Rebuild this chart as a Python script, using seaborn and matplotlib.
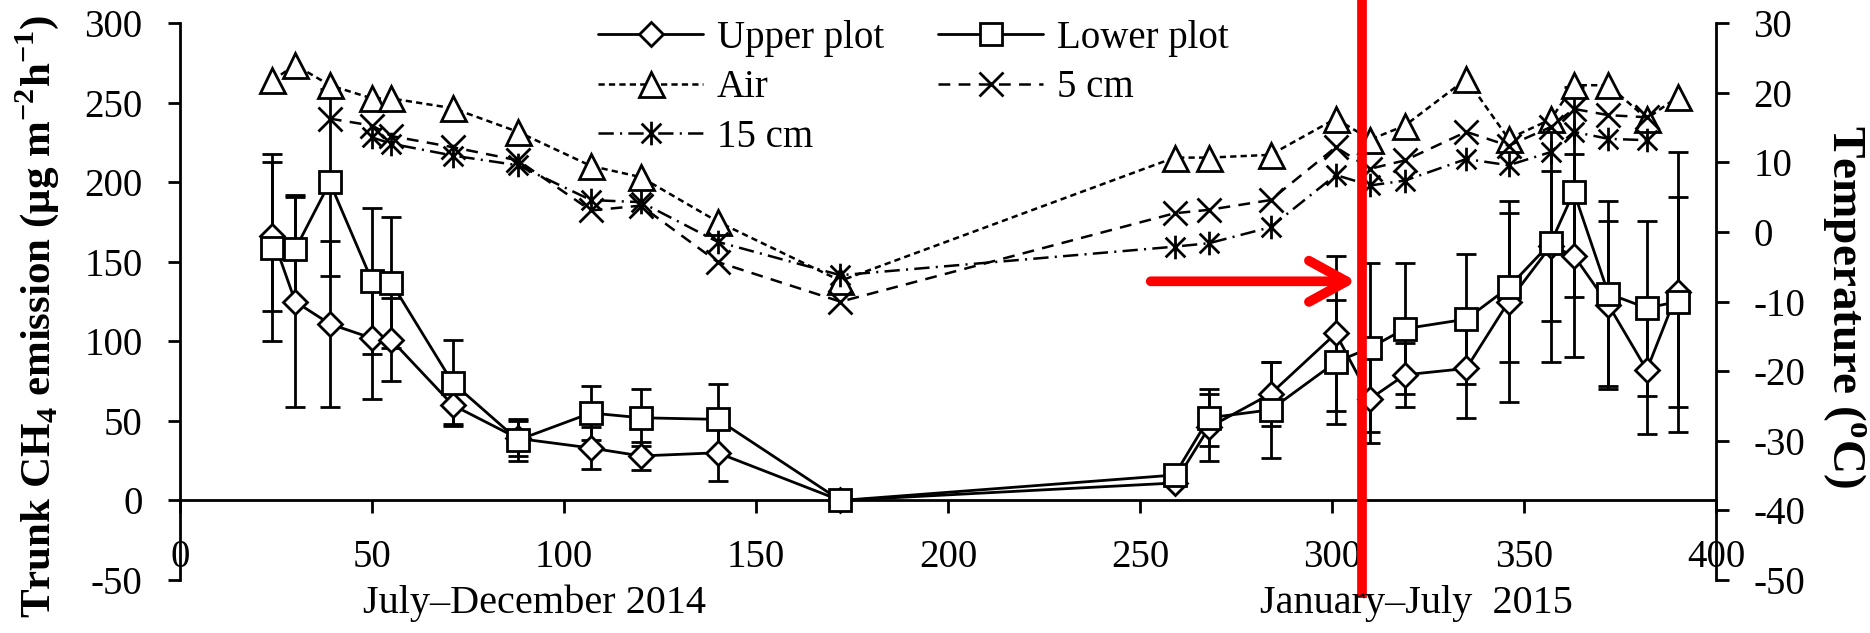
import numpy as np
import pandas as pd
import matplotlib
matplotlib.use("Agg")
import matplotlib.pyplot as plt
import matplotlib.transforms as mtransforms
from matplotlib.path import Path
import seaborn as sns

# Sampling days (days since start of July 2014).
days = [24, 30, 39, 50, 55, 71, 88, 107, 120, 140, 172, 259, 268, 284,
        301, 310, 319, 335, 346, 357, 363, 372, 382, 390]

# Trunk CH4 emission (ug m-2 h-1) with error bars.
upper = [166, 125, 111, 102, 101, 60, 39, 33, 28, 30, 0, 11, 46, 67,
         105, 64, 79, 83, 125, 160, 154, 123, 82, 131]
upper_err = [47, 66, 52, 38, 26, 12, 11, 13, 9, 18, 0, 0, 21, 20,
             49, 28, 20, 31, 63, 47, 64, 53, 40, 88]
lower = [159, 158, 200, 138, 137, 74, 38, 55, 52, 51, 0, 16, 52, 57,
         87, 96, 108, 114, 134, 162, 194, 130, 121, 125]
lower_err = [59, 34, 59, 46, 41, 27, 13, 17, 18, 22, 0, 0, 18, 30,
             39, 53, 41, 41, 47, 75, 66, 58, 55, 66]

# Temperatures (deg C).
air = [21.8, 24.0, 21.1, 19.2, 19.2, 17.8, 14.4, 9.5, 7.9, 1.5, -7.0, 10.7, 10.7, 11.1,
       16.3, 13.3, 15.3, 22.0, 13.4, 16.2, 21.1, 21.1, 16.3, 19.4]
days_5cm = [39, 50, 55, 71, 88, 107, 120, 140, 172, 259, 268, 284,
            301, 310, 319, 335, 346, 357, 363, 372, 382]
soil_5cm = [16.3, 15.3, 13.8, 12.2, 10.3, 3.1, 3.8, -4.3, -10.0, 2.7, 3.2, 4.6,
            12.2, 9.1, 10.3, 14.4, 12.4, 15.1, 17.7, 16.8, 16.5]
days_15cm = [50, 55, 71, 88, 107, 120, 140, 172, 259, 268, 284,
             301, 310, 319, 335, 346, 357, 363, 372, 382]
soil_15cm = [13.6, 12.7, 11.0, 9.6, 4.6, 4.3, -1.4, -6.2, -2.1, -1.6, 0.7,
             8.2, 6.7, 7.4, 10.5, 9.6, 11.5, 14.4, 13.4, 13.2]

# Red marker added on the figure.
mark_day = 307.7
arrow_from = 252.8
arrow_y = 137.8

sns.set_theme(style="ticks")
plt.rcParams['font.family'] = ['Liberation Serif', 'DejaVu Serif']
plt.rcParams['mathtext.fontset'] = 'custom'
plt.rcParams['mathtext.rm'] = 'Liberation Serif'
plt.rcParams['mathtext.bf'] = 'Liberation Serif:bold'
plt.rcParams['axes.unicode_minus'] = False
plt.rcParams['lines.scale_dashes'] = False
plt.rcParams['text.color'] = 'black'

fig = plt.figure(figsize=(18.7, 6.33), dpi=100)
ax1 = fig.add_axes([0.0963, 0.0837, 0.8213, 0.8795])
ax2 = ax1.twinx()

lw = 2.0
# Emission series with error bars.
ax1.errorbar(days, upper, yerr=upper_err, fmt='none', ecolor='black',
             elinewidth=lw, capsize=7, capthick=lw, zorder=1.5)
ax1.errorbar(days, lower, yerr=lower_err, fmt='none', ecolor='black',
             elinewidth=lw, capsize=7, capthick=lw, zorder=1.5)
sns.lineplot(x=days, y=upper, ax=ax1, color='black', lw=lw, marker='D',
             markersize=12, mfc='white', mec='black', mew=lw,
             errorbar=None, label='Upper plot', zorder=3)
sns.lineplot(x=days, y=lower, ax=ax1, color='black', lw=lw, marker='s',
             markersize=16, mfc='white', mec='black', mew=lw,
             errorbar=None, label='Lower plot', zorder=3)

# Temperature series.
star = Path([(-0.5, -0.5), (0.5, 0.5), (-0.5, 0.5), (0.5, -0.5), (0, -0.6), (0, 0.6)],
            [Path.MOVETO, Path.LINETO, Path.MOVETO, Path.LINETO, Path.MOVETO, Path.LINETO])
sns.lineplot(x=days, y=air, ax=ax2, color='black', lw=1.8, linestyle=(0, (4.5, 3)),
             marker='^', markersize=18, mfc='white', mec='black', mew=lw,
             errorbar=None, label='Air')
sns.lineplot(x=days_5cm, y=soil_5cm, ax=ax2, color='black', lw=1.8, linestyle=(0, (8.5, 6)),
             marker='x', markersize=17, mec='black', mew=lw,
             errorbar=None, label='5 cm')
sns.lineplot(x=days_15cm, y=soil_15cm, ax=ax2, color='black', lw=1.8,
             linestyle=(0, (11, 4.5, 1.5, 4.5)),
             marker=star, markersize=17, mfc='none', mec='black', mew=lw,
             errorbar=None, label='15 cm')

# Axes setup.
ax1.set_xlim(0, 400)
ax1.set_ylim(-50, 300)
ax2.set_ylim(-50, 30)
ax1.set_xticks(np.arange(0, 401, 50))
ax1.set_yticks(np.arange(-50, 301, 50))
ax2.set_yticks(np.arange(-50, 31, 10))
ax1.spines['bottom'].set_position(('data', 0))
for a in (ax1, ax2):
    a.spines['top'].set_visible(False)
    a.spines['bottom'].set_visible(a is ax1)
    for s in a.spines.values():
        s.set_linewidth(lw)
        s.set_color('black')
    a.set_xlabel(None)
    a.set_ylabel(None)
    a.grid(False)
ax1.spines['right'].set_visible(False)
ax2.spines['left'].set_visible(False)
ax1.tick_params(axis='x', direction='out', length=9, width=lw, pad=19,
                labelsize=28, colors='black')
ax1.tick_params(axis='y', direction='out', length=9, width=lw, pad=18,
                labelsize=28, colors='black')
ax2.tick_params(axis='y', direction='out', length=9, width=lw, pad=18,
                labelsize=28, colors='black')

# Axis titles.
fig.text(0.02, 0.5, r'Trunk CH$_\mathbf{4}$ emission (μg m$^{\mathbf{-2}}$h$^{\mathbf{-1}}$)',
         rotation=90, ha='center', va='center', fontsize=31, fontweight='bold')
fig.text(0.986, 0.515, r'Temperature ($^{\mathbf{o}}$C)', rotation=-90,
         ha='center', va='center', fontsize=34, fontweight='bold')
fig.text(0.2856, 0.047, 'July–December 2014', ha='center', va='center', fontsize=29)
fig.text(0.7577, 0.047, 'January–July  2015', ha='center', va='center', fontsize=29)

# Legend.
for a in (ax1, ax2):
    if a.get_legend():
        a.get_legend().remove()
lines1 = [l for l in ax1.get_lines() if l.get_label() in ('Upper plot', 'Lower plot')]
lines2 = [l for l in ax2.get_lines() if l.get_label() in ('Air', '5 cm', '15 cm')]
by_label = {l.get_label(): l for l in lines1 + lines2}
order = ['Upper plot', 'Air', '15 cm', 'Lower plot', '5 cm']
ax2.legend([by_label[k] for k in order], order, ncol=2, frameon=False,
           loc='upper left', bbox_to_anchor=(598 / 1870, 1 - 20 / 633),
           bbox_transform=fig.transFigure, fontsize=28, handlelength=2.7,
           handletextpad=0.35, columnspacing=1.4, labelspacing=0.32,
           borderpad=0, borderaxespad=0, numpoints=1, labelcolor='black')

# Red marker line and arrow.
trans = mtransforms.blended_transform_factory(ax2.transData, ax2.transAxes)
ax2.plot([mark_day, mark_day], [1.05, -0.032], color='red', lw=7,
         transform=trans, clip_on=False, zorder=10, solid_capstyle='butt')
ax1.annotate('', xy=(mark_day - 1.3, arrow_y), xytext=(arrow_from, arrow_y),
             arrowprops=dict(arrowstyle='->,head_length=1.0,head_width=0.55',
                             color='red', lw=7, mutation_scale=27,
                             shrinkA=0, shrinkB=0, capstyle='round'),
             zorder=10, annotation_clip=False)

fig.savefig("out.png", dpi=100)
